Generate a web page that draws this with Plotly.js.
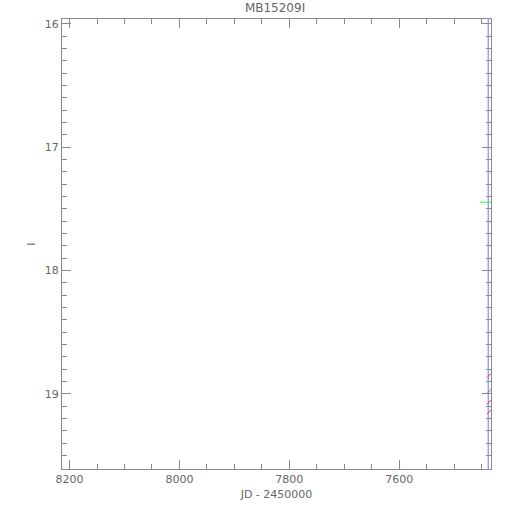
<!DOCTYPE html>
<html>
<head>
<meta charset="utf-8">
<script src="https://cdn.plot.ly/plotly-3.0.1.min.js"></script>
<style>html,body{margin:0;padding:0;background:#fff;}#plot{width:510px;height:510px;}</style>
</head>
<body>
<div id="plot"></div>
<script>
// Data
var titleText = "MB15209I";
var xTitle = "JD - 2450000";
var yTitle = "I";
var xRange = [8213.7, 7432.9];
var yRange = [15.962, 19.608];

// blue vertical marker line
var blueJD = [7438, 7438];
var blueMag = [15.9, 19.7];

// green horizontal baseline segment
var greenJD = [7453, 7420];
var greenMag = [17.446, 17.446];

// red data marks near right edge
var redJD = [7435.7, 7435.7, 7435.7, 7435.7];
var redMag = [18.847, 18.977, 19.063, 19.143];

var axisColor = "#8a8a8a";
var textColor = "#666666";
var fontFam = "DejaVu Sans, Liberation Sans, Arial, sans-serif";

var traces = [
  {x: blueJD, y: blueMag, mode: "lines", line: {color: "#6f6fff", width: 1}, hoverinfo: "skip", showlegend: false},
  {x: greenJD, y: greenMag, mode: "lines", line: {color: "#33ee33", width: 1}, hoverinfo: "skip", showlegend: false},
  {x: redJD, y: redMag, mode: "markers", marker: {symbol: "line-ne", size: 5, line: {color: "#ff3333", width: 1}}, hoverinfo: "skip", showlegend: false}
];

var layout = {
  width: 510, height: 510,
  margin: {l: 62, r: 19, t: 19, b: 41},
  paper_bgcolor: "#fff", plot_bgcolor: "#fff",
  font: {family: fontFam, size: 11, color: textColor},
  title: {text: titleText, x: 0.5393, xanchor: "center", y: 0.992, yanchor: "top", font: {family: fontFam, size: 12, color: textColor}},
  xaxis: {
    range: xRange, autorange: false,
    title: {text: xTitle, font: {size: 11, color: textColor}, standoff: 5},
    tickmode: "linear", tick0: 8200, dtick: 200,
    ticks: "inside", ticklen: 9, tickcolor: axisColor, tickwidth: 1,
    minor: {dtick: 50, tick0: 8200, ticks: "inside", ticklen: 5, tickcolor: axisColor, showgrid: false},
    showline: true, linecolor: axisColor, linewidth: 1, mirror: "ticks",
    showgrid: false, zeroline: false,
    tickfont: {size: 11, color: textColor}
  },
  yaxis: {
    range: [yRange[1], yRange[0]], autorange: false,
    title: {text: yTitle, font: {size: 11, color: textColor}, standoff: 6},
    tickmode: "linear", tick0: 16, dtick: 1,
    ticks: "inside", ticklen: 9, tickcolor: axisColor, tickwidth: 1,
    minor: {dtick: 0.1, tick0: 16, ticks: "inside", ticklen: 5, tickcolor: axisColor, showgrid: false},
    showline: true, linecolor: axisColor, linewidth: 1, mirror: "ticks",
    showgrid: false, zeroline: false,
    tickfont: {size: 11, color: textColor}
  }
};

Plotly.newPlot("plot", traces, layout, {staticPlot: true, displayModeBar: false});
</script>
</body>
</html>
